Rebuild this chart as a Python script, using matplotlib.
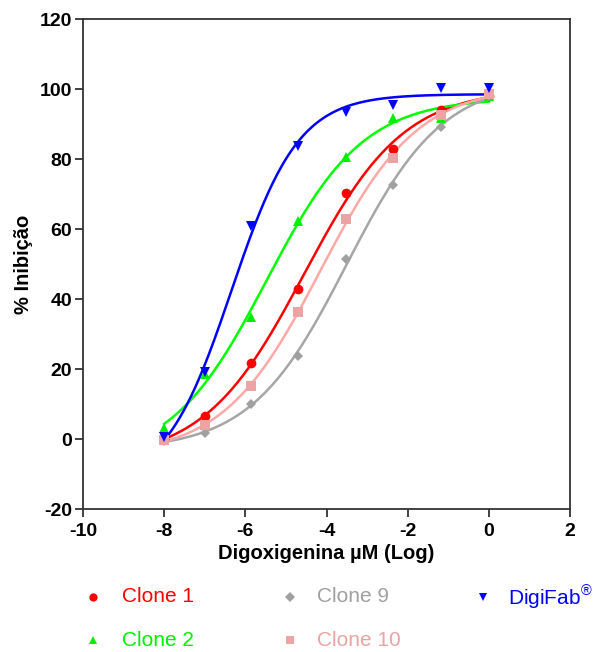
import numpy as np
import matplotlib
matplotlib.use("Agg")
from matplotlib import pyplot as plt
from matplotlib.lines import Line2D

plt.rcParams['font.family'] = ['Liberation Sans', 'DejaVu Sans']
plt.rcParams['mathtext.fontset'] = 'custom'
plt.rcParams['mathtext.rm'] = 'Liberation Sans'
plt.rcParams['axes.unicode_minus'] = False

# log concentration (uM)
log_conc = np.array([-8, -7, -5.85, -4.7, -3.52, -2.36, -1.18, 0.0])

clone_1 = np.array([0.0, 6.7, 21.8, 42.8, 70.2, 83.0, 94.0, 98.0])
clone_2 = np.array([3.1, 18.5, 35.0, 62.4, 80.7, 91.8, 91.6, 98.0])
clone_9 = np.array([-0.5, 1.8, 10.0, 23.8, 51.3, 72.6, 89.2, 98.0])
clone_10 = np.array([-0.3, 4.0, 15.1, 36.2, 63.0, 80.2, 92.5, 98.5])
digifab = np.array([0.5, 19.2, 60.9, 83.7, 93.5, 95.5, 100.2, 100.2])

labels = ['Clone 1', 'Clone 2', 'Clone 9', 'Clone 10', 'DigiFab$^{®}$']
series = [clone_1, clone_2, clone_9, clone_10, digifab]
markers = ['o', '^', 'D', 's', 'v']
marker_colors = ['#FF0000', '#00EE00', '#A0A0A0', '#EBA3A3', '#0000FF']
line_colors = ['#FF0000', '#00FF00', '#A6A6A6', '#FFA8A8', '#0000FF']
marker_sizes = [7, 7, 5.5, 6.5, 7]

# legend grid (figure pixels): marker x, text x, row y
legend_pos = [(93, 122, 597), (93, 122, 640), (290, 317, 597), (290, 317, 640), (483, 508, 597)]


def logistic4(x, p):
    bottom, top, log_ec50, hill = p
    return bottom + (top - bottom) / (1 + 10 ** ((log_ec50 - x) * hill))


def fit_logistic4(x, y):
    # small Levenberg-Marquardt, same model as a 4PL dose-response fit
    mid = (y.min() + y.max()) / 2
    p = np.array([y.min(), y.max(), x[np.argmin(np.abs(y - mid))], 0.5])
    sse = np.sum((y - logistic4(x, p)) ** 2)
    lam = 1e-3
    for _ in range(2000):
        r = y - logistic4(x, p)
        J = np.zeros((len(x), 4))
        for k in range(4):
            dp = np.zeros(4)
            dp[k] = 1e-6 * max(1.0, abs(p[k]))
            J[:, k] = (logistic4(x, p + dp) - logistic4(x, p)) / dp[k]
        A = J.T @ J
        step = np.linalg.solve(A + lam * np.diag(np.diag(A)), J.T @ r)
        new_p = p + step
        new_sse = np.sum((y - logistic4(x, new_p)) ** 2)
        if new_sse < sse:
            p, sse = new_p, new_sse
            lam *= 0.3
        else:
            lam *= 10
        if lam > 1e10:
            break
    return p


W, H = 595, 652
fig = plt.figure(figsize=(W / 100, H / 100), dpi=100)
ax = fig.add_axes([83 / W, 1 - 509 / H, 487 / W, 490 / H])

x_fit = np.linspace(log_conc.min(), log_conc.max(), 300)
for y, m, mc, lc, ms in zip(series, markers, marker_colors, line_colors, marker_sizes):
    p = fit_logistic4(log_conc, y)
    ax.plot(x_fit, logistic4(x_fit, p), color=lc, lw=1.8, zorder=2)
    ax.plot(log_conc, y, linestyle='none', marker=m, color=mc, ms=ms, mew=0, zorder=3)

ax.set_xlim(-10, 2)
ax.set_ylim(-20, 120)
ax.set_xticks(np.arange(-10, 3, 2))
ax.set_yticks(np.arange(-20, 121, 20))
for s in ax.spines.values():
    s.set_linewidth(1.3)
    s.set_color('#333333')
ax.tick_params(direction='out', length=6, width=1.3, color='#333333', labelsize=14, pad=2)
ax.tick_params(axis='x', pad=4)
for t in ax.get_xticklabels() + ax.get_yticklabels():
    t.set_fontweight('bold')
ax.set_xlabel('Digoxigenina µM (Log)', fontsize=14.5, fontweight='bold', labelpad=3)
ax.set_ylabel('% Inibição', fontsize=14.5, fontweight='bold', labelpad=5)

# legend laid out as a fixed grid like the original
for lab, m, mc, ms, (mx, tx, ry) in zip(labels, markers, marker_colors, marker_sizes, legend_pos):
    fig.add_artist(Line2D([mx / W], [1 - ry / H], linestyle='none', marker=m, color=mc,
                          ms=ms * 0.85, mew=0, transform=fig.transFigure))
    fig.text(tx / W, 1 - ry / H, lab, color=mc, fontsize=15, ha='left', va='center')

fig.savefig('out.png', dpi=100)
